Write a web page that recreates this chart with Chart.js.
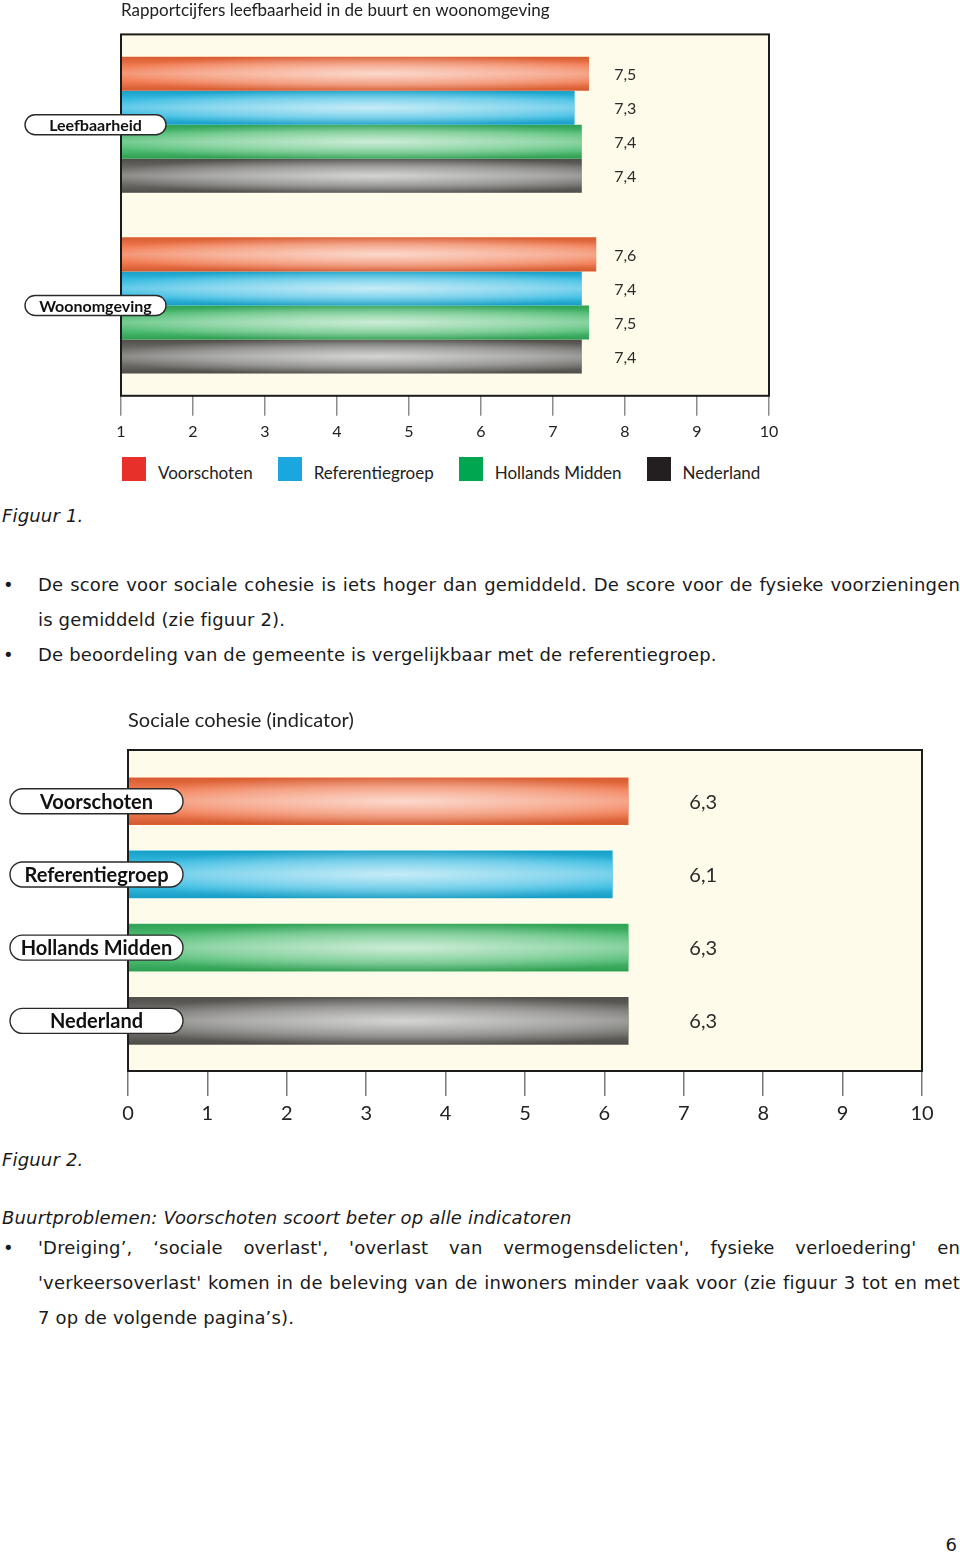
<!DOCTYPE html>
<html>
<head>
<meta charset="utf-8">
<script src="https://cdn.jsdelivr.net/npm/chart.js@4.4.1/dist/chart.umd.min.js"></script>
<style>
html, body { margin: 0; padding: 0; background: #fff; }
#page { position: relative; width: 960px; height: 1554px; overflow: hidden; font-family: 'DejaVu Sans', sans-serif; color: #1a1a1a; }
canvas { position: absolute; left: 0; }
#c1 { top: 0; }
#c2 { top: 700px; }
#legend { position: absolute; top: 457px; left: 122px; display: flex; font-family: Lato, sans-serif; font-size: 17px; color: #222; }
#legend .item { display: flex; align-items: flex-end; margin-right: 25px; height: 24px; line-height: 16px; }
#legend i { display: inline-block; width: 24px; height: 24px; margin-right: 12px; }
.fig { position: absolute; left: 2px; font-style: italic; font-size: 18px; letter-spacing: 0.17px; line-height: 30px; }
.txt { position: absolute; left: 0; width: 960px; font-size: 18px; letter-spacing: 0.17px; line-height: 35px; }
.txt div { padding-left: 38px; white-space: nowrap; }
.txt .j { text-align: justify; text-align-last: justify; }
.txt .b { position: relative; }
.txt .b:before { content: '\2022'; position: absolute; left: 3px; }
#pnum { position: absolute; right: 3px; top: 1534px; font-size: 18px; }
</style>
</head>
<body>
<div id="page">
  <canvas id="c1" width="960" height="447"></canvas>
  <div id="legend"></div>
  <div class="fig" style="top:501px">Figuur 1.</div>
  <div class="txt" style="top:567px">
    <div class="b j">De score voor sociale cohesie is iets hoger dan gemiddeld. De score voor de fysieke voorzieningen</div>
    <div>is gemiddeld (zie figuur 2).</div>
    <div class="b">De beoordeling van de gemeente is vergelijkbaar met de referentiegroep.</div>
  </div>
  <canvas id="c2" width="960" height="432"></canvas>
  <div class="fig" style="top:1145px">Figuur 2.</div>
  <div class="fig" style="top:1203px">Buurtproblemen: Voorschoten scoort beter op alle indicatoren</div>
  <div class="txt" style="top:1230px">
    <div class="b j">'Dreiging’, ‘sociale overlast', 'overlast van vermogensdelicten', fysieke verloedering' en</div>
    <div class="j">'verkeersoverlast' komen in de beleving van de inwoners minder vaak voor (zie figuur 3 tot en met</div>
    <div>7 op de volgende pagina’s).</div>
  </div>
  <div id="pnum">6</div>
</div>
<script>
// figuur 1
const categories1 = ['Leefbaarheid', 'Woonomgeving'];
const series1 = ['Voorschoten', 'Referentiegroep', 'Hollands Midden', 'Nederland'];
const voorschoten1 = [7.5, 7.6];
const referentiegroep1 = [7.3, 7.4];
const hollandsMidden1 = [7.4, 7.5];
const nederland1 = [7.4, 7.4];
const xTicks1 = [1, 2, 3, 4, 5, 6, 7, 8, 9, 10];

// figuur 2
const categories2 = ['Voorschoten', 'Referentiegroep', 'Hollands Midden', 'Nederland'];
const cohesie = [6.3, 6.1, 6.3, 6.3];
const xTicks2 = [0, 1, 2, 3, 4, 5, 6, 7, 8, 9, 10];

const tubeColors = ['#ef6636', '#1bb2de', '#34b35d', '#575652'];
const legendColors = ['#e8302a', '#1aa7e0', '#00a650', '#231f20'];

Chart.defaults.font.family = "Lato, 'Open Sans', sans-serif";
Chart.defaults.color = '#222';

function fmt(v) { return v.toFixed(1).replace('.', ','); }

function pill(ctx, x0, x1, yc, h, text, font) {
    const r = h / 2;
    ctx.beginPath();
    ctx.moveTo(x0 + r, yc - r);
    ctx.lineTo(x1 - r, yc - r);
    ctx.arc(x1 - r, yc, r, -Math.PI / 2, Math.PI / 2);
    ctx.lineTo(x0 + r, yc + r);
    ctx.arc(x0 + r, yc, r, Math.PI / 2, Math.PI * 1.5);
    ctx.closePath();
    ctx.fillStyle = '#fff';
    ctx.fill();
    ctx.lineWidth = 1.4;
    ctx.strokeStyle = '#2a2a2a';
    ctx.stroke();
    ctx.fillStyle = '#111';
    ctx.font = font;
    ctx.textAlign = 'center';
    ctx.textBaseline = 'middle';
    ctx.fillText(text, (x0 + x1) / 2, yc + 1);
}

// cream plot box, tube shading on the bars, values and the pill labels
const tube = {
    id: 'tube',
    beforeDatasetsDraw(chart) {
        const a = chart.chartArea, ctx = chart.ctx;
        ctx.save();
        ctx.fillStyle = '#fefbea';
        ctx.fillRect(a.left, a.top, a.right - a.left, a.bottom - a.top);
        ctx.restore();
    },
    afterDatasetsDraw(chart, args, o) {
        const a = chart.chartArea, ctx = chart.ctx;
        chart.data.datasets.forEach((ds, di) => {
            chart.getDatasetMeta(di).data.forEach((bar, idx) => {
                const p = bar.getProps(['x', 'y', 'base', 'height'], true);
                const left = Math.max(Math.min(p.base, p.x), a.left);
                const right = Math.max(p.base, p.x);
                const w = right - left, h = p.height, top = p.y - h / 2;
                ctx.save();
                ctx.beginPath();
                ctx.rect(left, top, w, h);
                ctx.clip();
                const g = ctx.createLinearGradient(0, top, 0, top + h);
                g.addColorStop(0, 'rgba(0,0,0,0.1)');
                g.addColorStop(0.25, 'rgba(255,255,255,0.12)');
                g.addColorStop(0.5, 'rgba(255,255,255,0.28)');
                g.addColorStop(0.75, 'rgba(255,255,255,0.12)');
                g.addColorStop(1, 'rgba(0,0,0,0.12)');
                ctx.fillStyle = g;
                ctx.fillRect(left, top, w, h);
                ctx.translate(left + w * 0.55, p.y);
                ctx.scale(w * 0.6, h * 0.55);
                const r = ctx.createRadialGradient(0, 0, 0, 0, 0, 1);
                r.addColorStop(0, 'rgba(255,255,255,0.65)');
                r.addColorStop(0.6, 'rgba(255,255,255,0.3)');
                r.addColorStop(1, 'rgba(255,255,255,0)');
                ctx.fillStyle = r;
                ctx.fillRect(-1, -1, 2, 2);
                ctx.restore();

                const v = ds.data[idx];
                ctx.save();
                ctx.font = o.valueFont;
                ctx.fillStyle = '#2a2a2a';
                ctx.textAlign = 'left';
                ctx.textBaseline = 'middle';
                ctx.fillText(fmt(typeof v === 'object' ? v.x : v), chart.scales.x.getPixelForValue(o.valueAt), p.y + 1);
                ctx.restore();
            });
        });
        ctx.save();
        ctx.lineWidth = 2;
        ctx.strokeStyle = '#1c1c1c';
        ctx.strokeRect(a.left, a.top, a.right - a.left, a.bottom - a.top);
        chart.data.labels.forEach((lab, i) => {
            pill(ctx, o.pillLeft, o.pillRight, chart.scales.y.getPixelForValue(i), o.pillHeight, lab, o.pillFont);
        });
        ctx.restore();
    }
};

const values1 = [voorschoten1, referentiegroep1, hollandsMidden1, nederland1];

new Chart(document.getElementById('c1'), {
    type: 'bar',
    data: {
        labels: categories1,
        datasets: series1.map((name, k) => ({
            label: name,
            data: values1[k],
            backgroundColor: tubeColors[k],
            barPercentage: 1,
            categoryPercentage: 0.754
        }))
    },
    options: {
        indexAxis: 'y',
        responsive: false,
        animation: false,
        layout: { padding: { left: 121, right: 191 } },
        scales: {
            x: {
                min: 1,
                max: 10,
                afterBuildTicks: s => { s.ticks = xTicks1.map(v => ({ value: v })); },
                grid: { drawOnChartArea: false, tickLength: 20, color: '#8c8c8c', lineWidth: 1.5 },
                border: { display: false },
                ticks: { padding: 6, font: { size: 16 }, color: '#222' }
            },
            y: { display: false }
        },
        plugins: {
            legend: { display: false },
            tooltip: { enabled: false },
            title: {
                display: true,
                text: 'Rapportcijfers leefbaarheid in de buurt en woonomgeving',
                align: 'start',
                fullSize: false,
                color: '#222',
                font: { size: 17, weight: 'normal' },
                padding: { top: 0, bottom: 14 }
            },
            tube: { valueAt: 7.85, valueFont: '16px Lato', pillLeft: 25, pillRight: 166, pillHeight: 20, pillFont: 'bold 16px Lato' }
        }
    },
    plugins: [tube]
});

// html legend for figuur 1
const legendEl = document.getElementById('legend');
series1.forEach((name, k) => {
    const item = document.createElement('span');
    item.className = 'item';
    item.innerHTML = '<i style="background:' + legendColors[k] + '"></i>' + name;
    legendEl.appendChild(item);
});

new Chart(document.getElementById('c2'), {
    type: 'bar',
    data: {
        labels: categories2,
        datasets: [{
            label: 'Sociale cohesie',
            data: cohesie.map((v, i) => ({ x: v, y: i })),
            backgroundColor: tubeColors,
            barThickness: 47
        }]
    },
    options: {
        indexAxis: 'y',
        responsive: false,
        animation: false,
        layout: { padding: { left: 128, right: 38 } },
        scales: {
            x: {
                min: 0,
                max: 10,
                afterBuildTicks: s => { s.ticks = xTicks2.map(v => ({ value: v })); },
                grid: { drawOnChartArea: false, tickLength: 25, color: '#7a7a7a', lineWidth: 1.5 },
                border: { display: false },
                ticks: { padding: 6, font: { size: 20 }, color: '#222' }
            },
            y: { type: 'linear', reverse: true, offset: false, min: -0.7, max: 3.685, display: false }
        },
        plugins: {
            legend: { display: false },
            tooltip: { enabled: false },
            title: {
                display: true,
                text: 'Sociale cohesie (indicator)',
                align: 'start',
                fullSize: false,
                color: '#222',
                font: { size: 20, weight: 'normal' },
                padding: { top: 9, bottom: 17 }
            },
            tube: { valueAt: 7.07, valueFont: '20px Lato', pillLeft: 10, pillRight: 183, pillHeight: 25, pillFont: 'bold 20px Lato' }
        }
    },
    plugins: [tube]
});
</script>
</body>
</html>
